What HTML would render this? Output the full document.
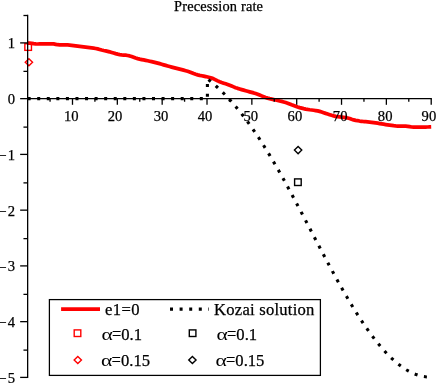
<!DOCTYPE html>
<html><head><meta charset="utf-8"><title>Precession rate</title>
<style>html,body{margin:0;padding:0;background:#fff;}body{width:436px;height:383px;overflow:hidden;}svg{display:block;will-change:transform;}text{font-family:"Liberation Serif",serif;fill:#000;stroke:#000;stroke-width:0.25px;}</style>
</head><body>
<svg width="436" height="383" viewBox="0 0 436 383">
<rect x="0" y="0" width="436" height="383" fill="#ffffff"/>
<text x="218.5" y="10.6" font-size="14.4" text-anchor="middle" textLength="89.0" lengthAdjust="spacing">Precession rate</text>
<path d="M27.65 43.10 L29.65 43.12 L31.65 43.33 L33.65 43.65 L35.65 43.92 L37.65 44.00 L39.65 43.98 L41.65 43.95 L43.65 43.92 L45.65 43.89 L47.65 43.88 L49.65 43.86 L51.65 43.85 L53.65 43.91 L55.65 44.32 L57.65 44.74 L59.65 44.84 L61.65 44.89 L63.65 44.91 L65.65 44.94 L67.65 44.99 L69.65 45.11 L71.65 45.34 L73.65 45.63 L75.65 45.94 L77.65 46.21 L79.65 46.46 L81.65 46.71 L83.65 46.97 L85.65 47.22 L87.65 47.46 L89.65 47.69 L91.65 47.91 L93.65 48.17 L95.65 48.48 L97.65 48.91 L99.65 49.44 L101.65 49.99 L103.65 50.47 L105.65 50.89 L107.65 51.32 L109.65 51.83 L111.65 52.44 L113.65 53.07 L115.65 53.67 L117.65 54.18 L119.65 54.55 L121.65 54.81 L123.65 55.02 L125.65 55.23 L127.65 55.51 L129.65 55.94 L131.65 56.58 L133.65 57.33 L135.65 58.07 L137.65 58.66 L139.65 59.14 L141.65 59.56 L143.65 59.96 L145.65 60.36 L147.65 60.77 L149.65 61.22 L151.65 61.67 L153.65 62.13 L155.65 62.61 L157.65 63.12 L159.65 63.67 L161.65 64.25 L163.65 64.84 L165.65 65.42 L167.65 65.97 L169.65 66.52 L171.65 67.07 L173.65 67.60 L175.65 68.14 L177.65 68.66 L179.65 69.16 L181.65 69.66 L183.65 70.17 L185.65 70.71 L187.65 71.29 L189.65 71.97 L191.65 72.76 L193.65 73.58 L195.65 74.32 L197.65 74.92 L199.65 75.37 L201.65 75.76 L203.65 76.14 L205.65 76.55 L207.65 77.03 L209.65 77.54 L211.65 78.12 L213.65 78.84 L215.65 79.82 L217.65 80.88 L219.65 81.78 L221.65 82.50 L223.65 83.16 L225.65 83.80 L227.65 84.47 L229.65 85.23 L231.65 86.04 L233.65 86.86 L235.65 87.65 L237.65 88.35 L239.65 88.98 L241.65 89.58 L243.65 90.15 L245.65 90.71 L247.65 91.28 L249.65 91.83 L251.65 92.37 L253.65 92.93 L255.65 93.55 L257.65 94.25 L259.65 95.04 L261.65 95.86 L263.65 96.67 L265.65 97.43 L267.65 98.10 L269.65 98.65 L271.65 99.13 L273.65 99.58 L275.65 100.03 L277.65 100.51 L279.65 100.98 L281.65 101.45 L283.65 101.95 L285.65 102.50 L287.65 103.16 L289.65 103.94 L291.65 104.76 L293.65 105.52 L295.65 106.29 L297.65 107.02 L299.65 107.63 L301.65 108.15 L303.65 108.63 L305.65 109.06 L307.65 109.44 L309.65 109.76 L311.65 110.01 L313.65 110.26 L315.65 110.53 L317.65 110.89 L319.65 111.41 L321.65 112.04 L323.65 112.73 L325.65 113.40 L327.65 114.02 L329.65 114.67 L331.65 115.31 L333.65 115.88 L335.65 116.33 L337.65 116.66 L339.65 116.92 L341.65 117.15 L343.65 117.38 L345.65 117.64 L347.65 117.98 L349.65 118.50 L351.65 119.23 L353.65 119.91 L355.65 120.36 L357.65 120.71 L359.65 121.02 L361.65 121.28 L363.65 121.51 L365.65 121.69 L367.65 121.87 L369.65 122.06 L371.65 122.29 L373.65 122.57 L375.65 122.88 L377.65 123.20 L379.65 123.53 L381.65 123.85 L383.65 124.20 L385.65 124.54 L387.65 124.85 L389.65 125.15 L391.65 125.45 L393.65 125.73 L395.65 125.93 L397.65 126.03 L399.65 126.08 L401.65 126.11 L403.65 126.14 L405.65 126.20 L407.65 126.40 L409.65 126.72 L411.65 127.00 L413.65 127.10 L415.65 127.10 L417.65 127.10 L419.65 127.10 L421.65 127.10 L423.65 127.08 L425.65 127.05 L427.65 127.00 L429.65 126.95 L431.20 126.90" fill="none" stroke="#ff0000" stroke-width="3.75" stroke-linejoin="round"/>
<text x="14.95" y="48.25" font-size="14.6" text-anchor="end">1</text>
<text x="14.95" y="104.00" font-size="14.6" text-anchor="end">0</text>
<text x="14.95" y="159.75" font-size="14.6" text-anchor="end">1</text>
<text x="6.4" y="160.00" font-size="14.6" text-anchor="end">−</text>
<text x="14.95" y="215.50" font-size="14.6" text-anchor="end">2</text>
<text x="6.4" y="215.75" font-size="14.6" text-anchor="end">−</text>
<text x="14.95" y="271.25" font-size="14.6" text-anchor="end">3</text>
<text x="6.4" y="271.50" font-size="14.6" text-anchor="end">−</text>
<text x="14.95" y="327.00" font-size="14.6" text-anchor="end">4</text>
<text x="6.4" y="327.25" font-size="14.6" text-anchor="end">−</text>
<text x="14.95" y="382.75" font-size="14.6" text-anchor="end">5</text>
<text x="6.4" y="383.00" font-size="14.6" text-anchor="end">−</text>
<text x="71.19" y="120.65" font-size="14.6" text-anchor="middle">10</text>
<text x="115.03" y="120.65" font-size="14.6" text-anchor="middle">20</text>
<text x="161.02" y="120.65" font-size="14.6" text-anchor="middle">30</text>
<text x="205.11" y="120.65" font-size="14.6" text-anchor="middle">40</text>
<text x="250.85" y="120.65" font-size="14.6" text-anchor="middle">50</text>
<text x="294.89" y="120.65" font-size="14.6" text-anchor="middle">60</text>
<text x="340.13" y="120.65" font-size="14.6" text-anchor="middle">70</text>
<text x="385.17" y="120.65" font-size="14.6" text-anchor="middle">80</text>
<text x="436.2" y="120.65" font-size="14.6" text-anchor="end">90</text>
<path d="M27.65 98.65 L207.40 98.65 L207.40 78.84 L209.28 80.34 L211.16 81.88 L213.04 83.46 L214.92 85.09 L216.80 86.77 L218.68 88.50 L220.56 90.28 L222.45 92.11 L224.33 94.00 L226.21 95.93 L228.09 97.92 L229.97 99.96 L231.85 102.06 L233.73 104.21 L235.61 106.41 L237.49 108.67 L239.37 110.98 L241.25 113.34 L243.13 115.76 L245.01 118.23 L246.89 120.76 L248.77 123.33 L250.66 125.96 L252.54 128.64 L254.42 131.37 L256.30 134.15 L258.18 136.98 L260.06 139.85 L261.94 142.78 L263.82 145.75 L265.70 148.76 L267.58 151.82 L269.46 154.91 L271.34 158.05 L273.22 161.23 L275.10 164.45 L276.98 167.70 L278.87 170.99 L280.75 174.31 L282.63 177.66 L284.51 181.04 L286.39 184.45 L288.27 187.89 L290.15 191.35 L292.03 194.83 L293.91 198.34 L295.79 201.86 L297.67 205.40 L299.55 208.96 L301.43 212.52 L303.31 216.10 L305.19 219.69 L307.08 223.28 L308.96 226.88 L310.84 230.48 L312.72 234.08 L314.60 237.68 L316.48 241.28 L318.36 244.86 L320.24 248.45 L322.12 252.02 L324.00 255.57 L325.88 259.12 L327.76 262.64 L329.64 266.15 L331.52 269.63 L333.41 273.10 L335.29 276.53 L337.17 279.94 L339.05 283.32 L340.93 286.67 L342.81 289.99 L344.69 293.26 L346.57 296.51 L348.45 299.71 L350.33 302.87 L352.21 305.99 L354.09 309.06 L355.97 312.08 L357.85 315.06 L359.73 317.99 L361.62 320.86 L363.50 323.68 L365.38 326.44 L367.26 329.14 L369.14 331.79 L371.02 334.37 L372.90 336.90 L374.78 339.36 L376.66 341.75 L378.54 344.07 L380.42 346.33 L382.30 348.52 L384.18 350.64 L386.06 352.68 L387.94 354.65 L389.83 356.55 L391.71 358.37 L393.59 360.11 L395.47 361.77 L397.35 363.36 L399.23 364.86 L401.11 366.28 L402.99 367.62 L404.87 368.87 L406.75 370.04 L408.63 371.12 L410.51 372.12 L412.39 373.02 L414.27 373.84 L416.15 374.57 L418.04 375.20 L419.92 375.74 L421.80 376.19 L423.68 376.55 L425.56 376.81 L427.44 376.97 L429.32 377.04 L431.20 377.01" fill="none" stroke="#000" stroke-width="3.1" stroke-dasharray="3.0 6.565" stroke-linejoin="miter"/>
<rect x="24.85" y="43.75" width="6.60" height="6.60" fill="none" stroke="#ff0000" stroke-width="1.40"/>
<path d="M25.25 62.30 L28.90 58.75 L32.55 62.30 L28.90 65.85 Z" fill="none" stroke="#ff0000" stroke-width="1.40" stroke-linejoin="miter"/>
<rect x="294.60" y="178.90" width="6.60" height="6.60" fill="none" stroke="#000" stroke-width="1.40"/>
<path d="M294.45 150.10 L298.10 146.55 L301.75 150.10 L298.10 153.65 Z" fill="none" stroke="#000" stroke-width="1.40" stroke-linejoin="miter"/>
<g stroke="#000" stroke-width="1.30" fill="none">
<line x1="27.65" y1="14.85" x2="27.65" y2="378.05"/>
<line x1="27.65" y1="98.65" x2="431.86" y2="98.65"/>
<line x1="20.15" y1="377.40" x2="27.65" y2="377.40"/>
<line x1="23.45" y1="350.12" x2="27.65" y2="350.12"/>
<line x1="20.15" y1="321.65" x2="27.65" y2="321.65"/>
<line x1="23.45" y1="294.38" x2="27.65" y2="294.38"/>
<line x1="20.15" y1="265.90" x2="27.65" y2="265.90"/>
<line x1="23.45" y1="238.62" x2="27.65" y2="238.62"/>
<line x1="20.15" y1="210.15" x2="27.65" y2="210.15"/>
<line x1="23.45" y1="182.88" x2="27.65" y2="182.88"/>
<line x1="20.15" y1="154.40" x2="27.65" y2="154.40"/>
<line x1="23.45" y1="127.12" x2="27.65" y2="127.12"/>
<line x1="20.15" y1="98.65" x2="27.65" y2="98.65"/>
<line x1="23.45" y1="71.38" x2="27.65" y2="71.38"/>
<line x1="20.15" y1="42.90" x2="27.65" y2="42.90"/>
<line x1="23.45" y1="15.50" x2="27.65" y2="15.50"/>
<line x1="50.07" y1="98.65" x2="50.07" y2="101.75"/>
<line x1="72.49" y1="98.65" x2="72.49" y2="104.80"/>
<line x1="94.91" y1="98.65" x2="94.91" y2="101.75"/>
<line x1="117.33" y1="98.65" x2="117.33" y2="104.80"/>
<line x1="139.75" y1="98.65" x2="139.75" y2="101.75"/>
<line x1="162.17" y1="98.65" x2="162.17" y2="104.80"/>
<line x1="184.59" y1="98.65" x2="184.59" y2="101.75"/>
<line x1="207.01" y1="98.65" x2="207.01" y2="104.80"/>
<line x1="229.43" y1="98.65" x2="229.43" y2="101.75"/>
<line x1="251.85" y1="98.65" x2="251.85" y2="104.80"/>
<line x1="274.27" y1="98.65" x2="274.27" y2="101.75"/>
<line x1="296.69" y1="98.65" x2="296.69" y2="104.80"/>
<line x1="319.11" y1="98.65" x2="319.11" y2="101.75"/>
<line x1="341.53" y1="98.65" x2="341.53" y2="104.80"/>
<line x1="363.95" y1="98.65" x2="363.95" y2="101.75"/>
<line x1="386.37" y1="98.65" x2="386.37" y2="104.80"/>
<line x1="408.79" y1="98.65" x2="408.79" y2="101.75"/>
<line x1="431.21" y1="98.65" x2="431.21" y2="104.80"/>
</g>
<rect x="49.4" y="299.6" width="271.0" height="75.8" fill="#fff" stroke="#000" stroke-width="1.25"/>
<line x1="61.1" y1="309.1" x2="100.0" y2="309.1" stroke="#ff0000" stroke-width="3.6"/>
<line x1="170.0" y1="309.15" x2="209.0" y2="309.15" stroke="#000" stroke-width="3.2" stroke-dasharray="3.0 6.6"/>
<rect x="74.20" y="329.90" width="6.60" height="6.60" fill="none" stroke="#ff0000" stroke-width="1.40"/>
<path d="M74.15 360.00 L77.80 356.45 L81.45 360.00 L77.80 363.55 Z" fill="none" stroke="#ff0000" stroke-width="1.40" stroke-linejoin="miter"/>
<rect x="189.30" y="329.90" width="6.60" height="6.60" fill="none" stroke="#000" stroke-width="1.40"/>
<path d="M188.75 360.00 L192.40 356.45 L196.05 360.00 L192.40 363.55 Z" fill="none" stroke="#000" stroke-width="1.40" stroke-linejoin="miter"/>
<text x="104.9" y="315.4" font-size="16.6" textLength="34.7" lengthAdjust="spacing">e1=0</text>
<text transform="translate(101.40 339.75) scale(1.3 1.06)" font-size="16.6" style="stroke:none">α</text>
<text transform="translate(111.90 339.75) scale(1 1.15)" font-size="16.6" style="stroke-width:0.15px">=</text>
<text x="121.26" y="339.75" font-size="16.6">0.1</text>
<text transform="translate(101.10 365.75) scale(1.3 1.06)" font-size="16.6" style="stroke:none">α</text>
<text transform="translate(111.60 365.75) scale(1 1.15)" font-size="16.6" style="stroke-width:0.15px">=</text>
<text x="120.96" y="365.75" font-size="16.6">0.15</text>
<text x="214.1" y="315.4" font-size="16.6" textLength="100.3" lengthAdjust="spacing">Kozai solution</text>
<text transform="translate(216.50 339.75) scale(1.3 1.06)" font-size="16.6" style="stroke:none">α</text>
<text transform="translate(227.00 339.75) scale(1 1.15)" font-size="16.6" style="stroke-width:0.15px">=</text>
<text x="236.36" y="339.75" font-size="16.6">0.1</text>
<text transform="translate(215.50 365.75) scale(1.3 1.06)" font-size="16.6" style="stroke:none">α</text>
<text transform="translate(226.00 365.75) scale(1 1.15)" font-size="16.6" style="stroke-width:0.15px">=</text>
<text x="235.36" y="365.75" font-size="16.6">0.15</text>
</svg></body></html>
